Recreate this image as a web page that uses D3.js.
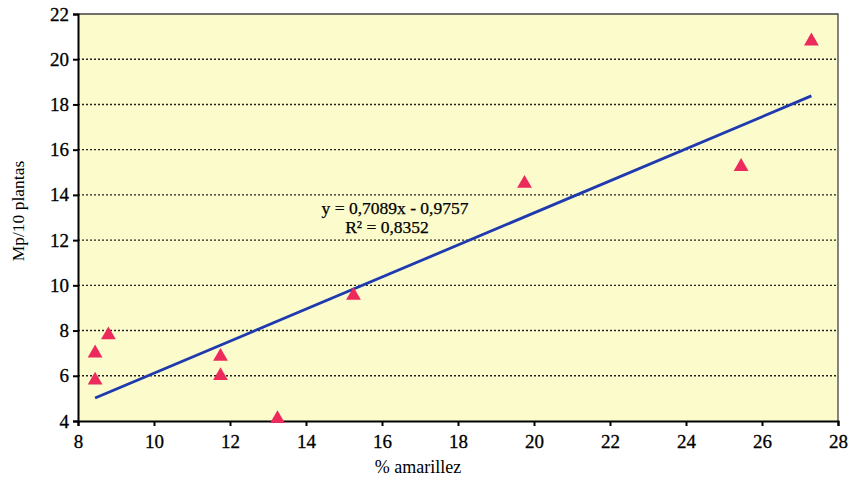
<!DOCTYPE html>
<html><head><meta charset="utf-8">
<script src="https://cdn.jsdelivr.net/npm/d3@7"></script>
<style>body{margin:0;background:#fff}svg{display:block}</style>
</head><body>
<svg id="c" width="850" height="479"></svg>
<script>
const xValues = [8.45, 8.45, 8.8, 11.75, 11.75, 13.25, 15.25, 19.75, 25.45, 27.3];
const yValues = [7.0, 5.8, 7.8, 6.85, 6.0, 4.1, 9.55, 14.5, 15.25, 20.8];
const xTicks = [8, 10, 12, 14, 16, 18, 20, 22, 24, 26, 28];
const yTicks = [4, 6, 8, 10, 12, 14, 16, 18, 20, 22];
const slope = 0.7089, intercept = -0.9757;
const eqLines = ["y = 0,7089x - 0,9757", "R² = 0,8352"];
const xTitle = "% amarillez", yTitle = "Mp/10 plantas";

const svg = d3.select("#c");
const L = 78, R = 838, T = 14, B = 421;
const x = d3.scaleLinear().domain([8, 28]).range([L, R]);
const y = d3.scaleLinear().domain([4, 22]).range([B, T]);
const font = "'Liberation Serif','Times New Roman',serif";

svg.append("rect").attr("x", L).attr("y", T).attr("width", R - L).attr("height", B - T).attr("fill", "#fbfbcc");

// gridlines
svg.append("g").selectAll("line").data(yTicks.filter(d => d > 4 && d < 22)).join("line")
  .attr("x1", L).attr("x2", R).attr("y1", d => y(d)).attr("y2", d => y(d))
  .attr("stroke", "#222").attr("stroke-width", 1.4).attr("stroke-dasharray", "2,2");

// frame top/right
svg.append("path").attr("d", `M${L},${T}H${R}V${B}`).attr("fill", "none").attr("stroke", "#444").attr("stroke-width", 1.3);

// axes
const yAxis = d3.axisLeft(y).tickValues(yTicks).tickSize(5).tickPadding(4).tickFormat(d3.format("d"));
const gy = svg.append("g").attr("transform", `translate(${L},0)`).call(yAxis);
const xAxis = d3.axisBottom(x).tickValues(xTicks).tickSize(5).tickPadding(9).tickFormat(d3.format("d"));
const gx = svg.append("g").attr("transform", `translate(0,${B})`).call(xAxis);
[gx, gy].forEach(g => {
  g.select(".domain").attr("stroke", "#000").attr("stroke-width", 2);
  g.selectAll(".tick line").attr("stroke", "#000").attr("stroke-width", 2);
  g.selectAll("text").attr("font-family", font).attr("font-size", 19).attr("fill", "#000")
    .attr("stroke", "#000").attr("stroke-width", 0.3);
});

// regression line
const xmin = d3.min(xValues), xmax = d3.max(xValues);
svg.append("line")
  .attr("x1", x(xmin)).attr("y1", y(slope * xmin + intercept))
  .attr("x2", x(xmax)).attr("y2", y(slope * xmax + intercept))
  .attr("stroke", "#1f3aae").attr("stroke-width", 2.8);

// points
const tri = d3.symbol().type(d3.symbolTriangle).size(95);
svg.append("g").selectAll("path").data(xValues.map((v, i) => [v, yValues[i]])).join("path")
  .attr("d", tri).attr("transform", d => `translate(${x(d[0])},${y(d[1])})`)
  .attr("fill", "#ec2a5c");

// equation
const eq = svg.append("text").attr("font-family", font).attr("font-size", 17.5).attr("fill", "#000")
  .attr("stroke", "#000").attr("stroke-width", 0.25).attr("text-anchor", "middle");
eq.append("tspan").attr("x", 395).attr("y", 214).text(eqLines[0]);
eq.append("tspan").attr("x", 387).attr("y", 233).text(eqLines[1]);

// titles
svg.append("text").attr("x", 418).attr("y", 473).attr("text-anchor", "middle")
  .attr("font-family", font).attr("font-size", 18).attr("fill", "#000").text(xTitle);
svg.append("text").attr("transform", `translate(24,211) rotate(-90)`).attr("text-anchor", "middle")
  .attr("font-family", font).attr("font-size", 17.5).attr("fill", "#000").text(yTitle);
</script>
</body></html>
